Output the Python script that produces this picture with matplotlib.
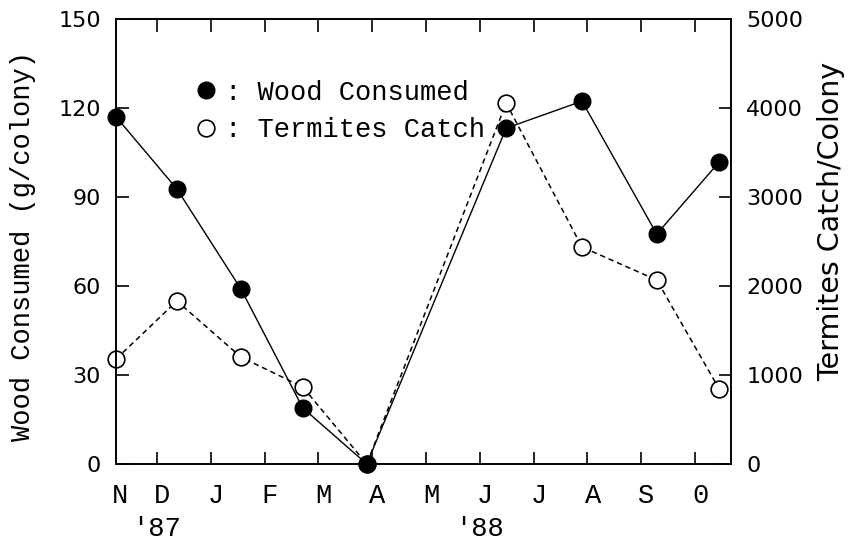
import numpy as np
import matplotlib
matplotlib.use("Agg")
import matplotlib.pyplot as plt
from matplotlib.lines import Line2D

# sampling dates, in months from 1 Nov 1987 (tick D = 1, J = 2, ...)
sample_x = [0.24, 1.37, 2.56, 3.71, 4.90, 7.49, 8.90, 10.29, 11.45]
wood = [117.0, 92.7, 59.0, 18.9, 0.0, 113.2, 122.3, 77.5, 101.8]
termites = [1180, 1831, 1202, 865, 0, 4056, 2438, 2067, 843]

months = ["N", "D", "J", "F", "M", "A", "M", "J", "J", "A", "S", "0"]
month_ticks = np.arange(1, 12)
label_pos = np.r_[0.31, month_ticks + 0.1]
years = ["'87", "'88"]
year_pos = [1, 7]

wood_ticks = np.arange(0, 151, 30)
termite_ticks = np.arange(0, 5001, 1000)

mono = "Liberation Mono"
sans = "DejaVu Sans"
fw = "normal"

fig = plt.figure(figsize=(8.53, 5.40), dpi=100)
ax = fig.add_axes([116/853, 1-464/540, (731-116)/853, (464-19)/540])
ax2 = ax.twinx()

ax.set_xlim(0.238, 11.67)
ax.set_ylim(0, 150)
ax2.set_ylim(0, 5000)

# termites (open circles, dashed) drawn on ax2, which sits below ax
ax2.plot(sample_x, termites, color="k", lw=1.1, ls=(0, (3.5, 2.5)),
         marker="o", ms=12, mfc="white", mec="k", mew=1.2, clip_on=False)

# wood consumed (filled circles, solid)
ax.plot(sample_x, wood, color="k", lw=1.0, marker="o", ms=12,
        mfc="k", mec="k", clip_on=False)

ax.set_zorder(ax2.get_zorder() + 1)
ax.patch.set_visible(False)

# x axis : months
ax.set_xticks(month_ticks)
ax.set_xticks(label_pos, minor=True)
ax.set_xticklabels([], minor=False)
ax.set_xticklabels(months, minor=True, family=mono, fontsize=19.5, fontweight=fw)
ax.tick_params(axis="x", which="major", direction="in", length=9, width=1.2,
               top=True, labelbottom=False)
ax.tick_params(axis="x", which="minor", length=0, pad=14)
for yr, xp in zip(years, year_pos):
    ax.text(xp, -0.145, yr, transform=ax.get_xaxis_transform(),
            ha="center", va="center", family=mono, fontsize=19.5, fontweight=fw)

# y axes
ax.set_yticks(wood_ticks)
ax.set_yticklabels([str(v) for v in wood_ticks], family=sans, fontsize=16)
ax.tick_params(axis="y", direction="in", length=9, width=1.2, pad=11)
ax2.set_yticks(termite_ticks)
ax2.set_yticklabels([str(v) for v in termite_ticks], family=sans, fontsize=16)
ax2.tick_params(axis="y", direction="in", length=9, width=1.2, pad=11)

ax.set_ylabel("Wood Consumed (g/colony)", family=mono, fontsize=19.5, fontweight=fw)
ax.yaxis.set_label_coords(-0.13, 0.49)
ax2.set_ylabel("Termites Catch/Colony", family=sans, fontsize=20.5)
ax2.yaxis.set_label_coords(1.14, 0.544)

for a in (ax, ax2):
    for s in a.spines.values():
        s.set_linewidth(1.2)

# legend
handles = [Line2D([], [], ls="none", marker="o", ms=12, mfc="k", mec="k"),
           Line2D([], [], ls="none", marker="o", ms=12, mfc="white", mec="k", mew=1.2)]
ax.legend(handles, [": Wood Consumed", ": Termites Catch"], loc="upper left",
          bbox_to_anchor=(0.084, 0.918), frameon=False, handlelength=1.0,
          handletextpad=0.2, labelspacing=0.42,
          prop={"family": mono, "size": 19.5, "weight": fw})

fig.savefig("out.png", dpi=100)
